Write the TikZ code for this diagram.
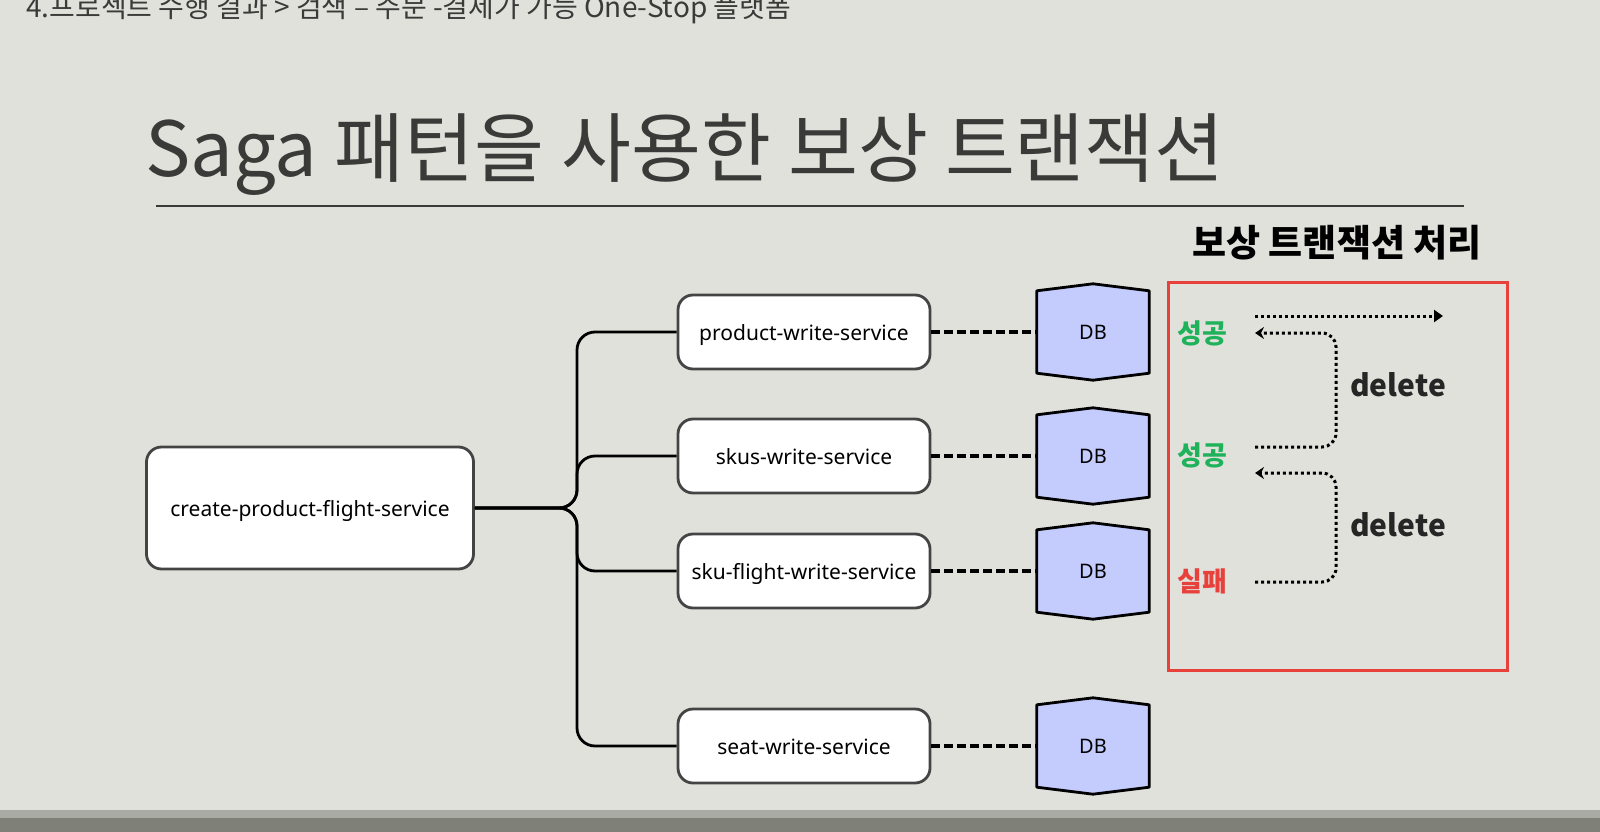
\documentclass[tikz,border=0pt]{standalone}
\usepackage{fontspec}
\setmainfont{Noto Sans}
\newfontfamily\kr{Noto Sans CJK KR}
\usetikzlibrary{arrows.meta}
\definecolor{bgcol}{HTML}{E1E1DC}
\definecolor{bandlight}{HTML}{A9AAA3}
\definecolor{banddark}{HTML}{7F8078}
\definecolor{inkgray}{HTML}{3A3A38}
\definecolor{edgegray}{HTML}{444444}
\definecolor{dbfill}{HTML}{C4CBFD}
\definecolor{okgreen}{HTML}{1FB25A}
\definecolor{failred}{HTML}{E8413C}
\begin{document}
\begin{tikzpicture}[x=1pt,y=-1pt,>=Stealth,
  svc/.style={draw=edgegray,line width=2.8pt,fill=white,rounded corners=15pt,
    minimum width=252pt,minimum height=74pt,text height=17pt,text depth=1pt,
    font=\fontsize{21}{24}\selectfont},
  dbbox/.style={minimum width=112pt,minimum height=82pt,inner sep=0pt},
  dbshape/.style={draw=black,fill=dbfill,line width=2.8pt,line join=round},
  link/.style={line width=2.8pt,rounded corners=18pt},
  dblink/.style={line width=3.2pt,dash pattern=on 9pt off 4pt},
  flow/.style={line width=3pt,dash pattern=on 3pt off 3pt,rounded corners=14pt},
  state/.style={font=\kr\bfseries\fontsize{27}{30}\selectfont},
  undo/.style={font=\kr\bfseries\fontsize{30}{34}\selectfont,text=black!85}]
  \useasboundingbox (0,0) rectangle (1600,832);
  \clip (0,0) rectangle (1600,832);
  \fill[bgcol] (0,0) rectangle (1600,832);
  \fill[bandlight] (0,810) rectangle (1600,818);
  \fill[banddark] (0,818) rectangle (1600,832);
  \node[anchor=base west,inner sep=0pt,text=inkgray,font=\kr\fontsize{28}{30}\selectfont] (crumb) at (26,18)
    {4.프로젝트 수행 결과 > 검색 – 주문 -결제가 가능 One-Stop 플랫폼};
  \node[anchor=base west,inner sep=0pt,text=inkgray,font=\kr\fontsize{76}{80}\selectfont] (title) at (145,176)
    {Saga 패턴을 사용한 보상 트랜잭션};
  \draw[inkgray,line width=1.4pt] (156,206) -- (1464,206);
  \node[svc,minimum width=327pt,minimum height=122pt] (main) at (310,508) {create-product-flight-service};
  \coordinate (trunk) at (577,508);
  \foreach \i/\y/\name in {1/332/product-write-service,2/456/skus-write-service,
      3/571/sku-flight-write-service,4/746/seat-write-service}{
    \node[svc] (srv\i) at (804,\y) {\name};
    \node[dbbox] (db\i) at (1093,\y) {};
    \filldraw[dbshape] (db\i.north west) -- ([yshift=7pt]db\i.north) -- (db\i.north east)
      -- (db\i.south east) -- ([yshift=-7pt]db\i.south) -- (db\i.south west) -- cycle;
    \node[font=\fontsize{20}{24}\selectfont] (dbtext\i) at (db\i) {DB};
    \draw[link] (main.east) -- (trunk) |- (srv\i.west);
    \draw[dblink] (srv\i.east) -- (db\i.west);
  }
  \draw[failred,line width=3pt] (1168,282) rectangle (1507,670);
  \node[font=\kr\bfseries\fontsize{37}{40}\selectfont] (head) at (1337,243) {보상 트랜잭션 처리};
  \node[state,text=okgreen] (ok1) at (1202,333) {성공};
  \node[state,text=okgreen] (ok2) at (1202,455) {성공};
  \node[state,text=failred] (fail) at (1202,581) {실패};
  \coordinate (bend) at (1336,0);
  \coordinate (go0) at (1255,316);
  \coordinate (go1) at (1443,316);
  \coordinate (from1) at (1255,447);
  \coordinate (to1) at (1255,333);
  \coordinate (from2) at (1255,582);
  \coordinate (to2) at (1255,473);
  \draw[flow,-{Triangle[length=9pt,width=12pt]}] (go0) -- (go1);
  \draw[flow,-{Stealth[length=9pt,width=12pt,inset=3pt]}] (from1) -- (from1 -| bend) -- (to1 -| bend) -- (to1);
  \draw[flow,-{Stealth[length=9pt,width=12pt,inset=3pt]}] (from2) -- (from2 -| bend) -- (to2 -| bend) -- (to2);
  \node[undo] (del1) at (1398,385) {delete};
  \node[undo] (del2) at (1398,525) {delete};
\end{tikzpicture}
\end{document}
